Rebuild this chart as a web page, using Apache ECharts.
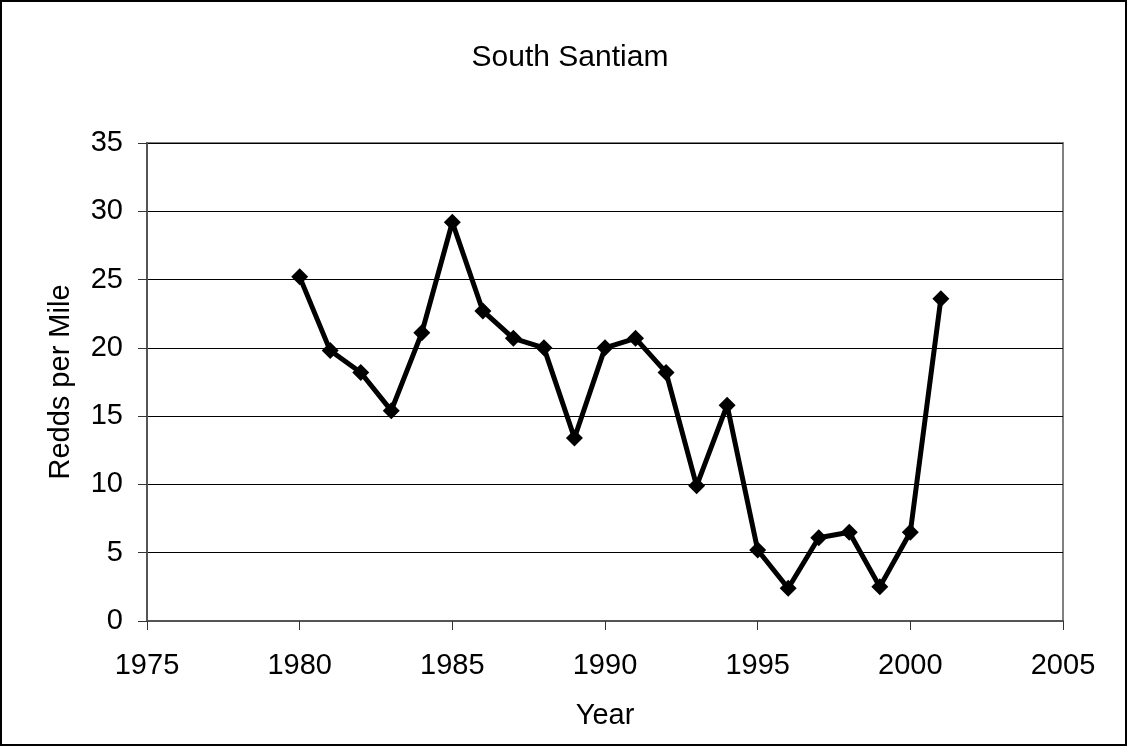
<!DOCTYPE html>
<html>
<head>
<meta charset="utf-8">
<script src="https://cdn.jsdelivr.net/npm/echarts@6/dist/echarts.min.js"></script>
<style>
  html, body { margin: 0; padding: 0; background: #fff; }
  #frame { width: 1127px; height: 746px; box-sizing: border-box; border: 2px solid #000; }
  #chart { width: 100%; height: 100%; }
</style>
</head>
<body>
<div id="frame"><div id="chart"></div></div>
<script>
// years and redds per mile
const years = [1980, 1981, 1982, 1983, 1984, 1985, 1986, 1987, 1988, 1989, 1990,
  1991, 1992, 1993, 1994, 1995, 1996, 1997, 1998, 1999, 2000, 2001];
const redds = [25.2, 19.8, 18.2, 15.4, 21.1, 29.2, 22.7, 20.7, 20.0, 13.4, 20.0,
  20.7, 18.2, 9.9, 15.8, 5.2, 2.4, 6.1, 6.5, 2.5, 6.5, 23.6];

const font = 'Arial, "Liberation Sans", sans-serif';

const chart = echarts.init(document.getElementById('chart'));
chart.setOption({
  animation: false,
  title: {
    text: 'South Santiam',
    left: 563,
    textAlign: 'center',
    top: 36,
    textStyle: { fontFamily: font, fontSize: 30, fontWeight: 'normal', color: '#000' }
  },
  grid: {
    left: 145, right: 62, top: 141, bottom: 123,
    show: true, borderColor: '#808080', borderWidth: 2
  },
  xAxis: {
    type: 'value',
    min: 1975, max: 2005, interval: 5,
    name: 'Year',
    nameLocation: 'middle',
    nameGap: 80,
    nameTextStyle: { fontFamily: font, fontSize: 29, color: '#000' },
    axisLine: { lineStyle: { color: '#555', width: 2 } },
    axisTick: { show: true, length: 9, lineStyle: { color: '#333' } },
    axisLabel: { fontFamily: font, fontSize: 29, color: '#000', margin: 30, formatter: v => String(v) },
    splitLine: { show: false }
  },
  yAxis: {
    type: 'value',
    min: 0, max: 35, interval: 5,
    name: 'Redds per Mile',
    nameLocation: 'middle',
    nameGap: 72,
    nameTextStyle: { fontFamily: font, fontSize: 29, color: '#000' },
    axisLine: { show: true, lineStyle: { color: '#555', width: 2 } },
    axisTick: { show: true, length: 9, lineStyle: { color: '#333' } },
    axisLabel: { fontFamily: font, fontSize: 29, color: '#000', margin: 24 },
    splitLine: { show: true, lineStyle: { color: '#000', width: 1 } }
  },
  series: [{
    type: 'line',
    data: years.map((y, i) => [y, redds[i]]),
    symbol: 'diamond',
    symbolSize: 17,
    lineStyle: { color: '#000', width: 5 },
    itemStyle: { color: '#000' }
  }]
});
</script>
</body>
</html>
